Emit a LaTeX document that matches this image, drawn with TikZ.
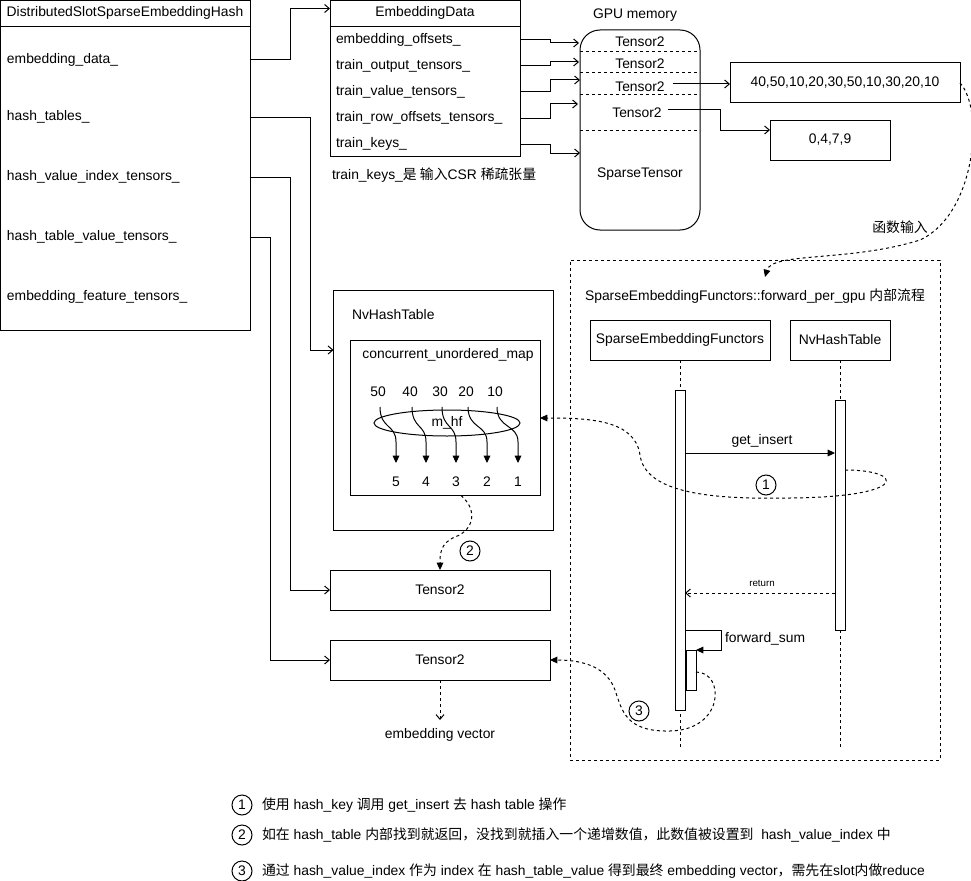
\documentclass[tikz,border=0pt]{standalone}
\usepackage{fontspec}
\setmainfont{Liberation Sans}
\newfontfamily\cjk{Noto Sans CJK SC}
\usetikzlibrary{arrows.meta,calc,shapes.geometric}
\begin{document}
\begin{tikzpicture}[x=0.75pt,y=-0.75pt,
  every node/.style={font=\fontsize{10.4pt}{12pt}\selectfont, inner sep=0pt, outer sep=0pt},
  lw/.style={line width=0.75pt},
  box/.style={draw, lw, rectangle, fill=white},
  fld/.style={anchor=west, text height=7.5pt, text depth=2.2pt},
  dsh/.style={dash pattern=on 2.25pt off 2.25pt},
  oarr/.style={lw, -{Straight Barb[length=3.5pt,width=6pt]}},
  farr/.style={lw, -{Triangle[length=5.5pt,width=5pt]}},
  num/.style={circle, draw, lw, minimum size=15pt},
]
\useasboundingbox (0,0) rectangle (971,881);

% ---------- class box ----------
\node[box, minimum width=187.5pt, minimum height=247.5pt] (cls) at (125.5,165.5) {};
\draw[lw] ($(cls.north west)+(0,26)$) -- ($(cls.north east)+(0,26)$);
\node (clsh) at (125,13) {DistributedSlotSparseEmbeddingHash};
\node[fld] (fe) at (7,60) {embedding\_data\_};
\node[fld] (fh) at (7,117) {hash\_tables\_};
\node[fld] (fv) at (7,177) {hash\_value\_index\_tensors\_};
\node[fld] (ft) at (7,237) {hash\_table\_value\_tensors\_};
\node[fld] (ff) at (7,297) {embedding\_feature\_tensors\_};

% ---------- EmbeddingData ----------
\node[box, minimum width=142.5pt, minimum height=117pt] (ed) at (425,78.5) {};
\draw[lw] ($(ed.north west)+(0,26)$) -- ($(ed.north east)+(0,26)$);
\node (edh) at (425,13) {EmbeddingData};
\node[fld] (e1) at (336,40) {embedding\_offsets\_};
\node[fld] (e2) at (336,66) {train\_output\_tensors\_};
\node[fld] (e3) at (336,92) {train\_value\_tensors\_};
\node[fld] (e4) at (336,118) {train\_row\_offsets\_tensors\_};
\node[fld] (e5) at (336,144) {train\_keys\_};
\node[anchor=west] (tk) at (332,175) {train\_keys\_{\cjk 是 输入}CSR {\cjk 稀疏张量}};

% ---------- GPU memory ----------
\node[draw, lw, rounded corners=15pt, minimum width=90pt, minimum height=150pt] (gpu) at (640,130) {};
\node (gpul) at (635,15) {GPU memory};
\foreach \o in {22,43,65,100}
  \draw[lw,dsh] ($(gpu.north west)+(0,\o)$) -- ($(gpu.north east)+(0,\o)$);
\node (t1) at (640,42) {Tensor2};
\node (t2) at (640,64) {Tensor2};
\node (t3) at (640,87) {Tensor2};
\node (t4) at (637,113) {Tensor2};
\node (st) at (640,174) {SparseTensor};

\node[box, minimum width=172.5pt, minimum height=30pt] (kv) at (845,83) {40,50,10,20,30,50,10,30,20,10};
\node[box, minimum width=90pt, minimum height=30pt] (ro) at (830,140) {0,4,7,9};

% ---------- NvHashTable ----------
\node[box, minimum width=165pt, minimum height=180pt] (nvo) at (443.5,410) {};
\node[anchor=west] (nvl) at (352,315) {NvHashTable};
\node[box, minimum width=142.5pt, minimum height=116.25pt] (cmap) at (445,418) {};
\node (cml) at (448,355) {concurrent\_unordered\_map};
\node[ellipse, draw, lw, minimum width=109.5pt, minimum height=19.5pt] (mhf) at (447,423) {m\_hf};
\node (k50) at (378,392) {50};
\node (k40) at (410,392) {40};
\node (k30) at (440,392) {30};
\node (k20) at (466,392) {20};
\node (k10) at (495,392) {10};
\node (v5) at (396,482) {5};
\node (v4) at (426,482) {4};
\node (v3) at (456,482) {3};
\node (v2) at (487,482) {2};
\node (v1) at (518,482) {1};
\foreach \a/\b in {k50/v5,k40/v4,k30/v3,k20/v2,k10/v1}
  \draw[farr] ($(\a)+(2,15)$) .. controls +(0,22) and +(0,-18) .. ($(\b)+(0,-40)$) -- ($(\b)+(0,-19)$);

% ---------- Tensor2 boxes ----------
\node[box, minimum width=165pt, minimum height=30pt] (T2a) at (440,590) {Tensor2};
\node[box, minimum width=165pt, minimum height=30pt] (T2b) at (440,660) {Tensor2};
\coordinate (evtip) at (440,720);
\node (ev) at (440,735) {embedding vector};
\draw[lw,dsh,oarr] (T2b.south) -- (evtip);

% ---------- class connectors ----------
\draw[oarr] (cls.east |- fe) -- ++(40,0) |- ($(ed.north west)+(0,8)$);
\draw[oarr] (cls.east |- fh) -- ++(60,0) |- ($(nvo.north west)+(0,60)$);
\draw[oarr] (cls.east |- fv) -- ++(40,0) |- (T2a.west);
\draw[oarr] (cls.east |- ft) -- ++(20,0) |- (T2b.west);

% ---------- EmbeddingData connectors ----------
\draw[oarr] (ed.east |- e1) -- ++(30,0) |- ($(gpu.north west)+(-1,13)$);
\draw[oarr] (ed.east |- e2) -- ++(30,0) |- ($(gpu.north west)+(-1,32)$);
\draw[oarr] (ed.east |- e3) -- ++(30,0) |- ($(gpu.north west)+(0,50)$);
\draw[oarr] (ed.east |- e4) -- ++(30,0) |- ($(gpu.north west)+(-2,74)$);
\draw[oarr] (ed.east |- e5) -- ++(30,0) |- ($(gpu.north west)+(0,123)$);

\draw[oarr] ($(t3.east)+(8,-3)$) -- (kv.west |- {$(t3.east)+(8,-3)$});
\draw[oarr] ($(t4.east)+(6,-3)$) -| ($(ro.north west)+(-50,10)$) -- ($(ro.north west)+(0,10)$);

% ---------- sequence frame ----------
\node[draw, lw, dsh, minimum width=277.5pt, minimum height=375pt] (frame) at (755,510) {};
\node (ftitle) at (755,296) {SparseEmbeddingFunctors::forward\_per\_gpu {\cjk 内部流程}};
\node[box, minimum width=135pt, minimum height=30pt] (sef) at (680,340) {SparseEmbeddingFunctors};
\node[box, minimum width=75pt, minimum height=30pt] (nvh) at (840,340) {NvHashTable};
\coordinate (sefend) at (680,747);
\coordinate (nvhend) at (840,747);
\draw[lw,dsh] (sef.south) -- (sefend);
\draw[lw,dsh] (nvh.south) -- (nvhend);
\node[box, minimum width=7.5pt, minimum height=240pt] (act1) at (680,550) {};
\node[box, minimum width=7.5pt, minimum height=172.5pt] (act2) at (840,515) {};
\node[box, minimum width=7.5pt, minimum height=30pt] (act3) at (691,670) {};

\coordinate (gi) at (760,453);
\draw[farr] (act1.east |- gi) -- (act2.west |- gi);
\node (gil) at (762,441) {get\_insert};
\coordinate (rt) at (760,593);
\draw[lw,dsh,oarr] (act2.west |- rt) -- (act1.east |- rt);
\node[font=\fontsize{7.3pt}{8.5pt}\selectfont] (rtl) at (762,583) {return};
\coordinate (fsy) at (700,630);
\draw[farr] (act1.east |- fsy) -- (721,630) -- (721,650) -- (act3.north east);
\node[anchor=west] (fsl) at (725,639) {forward\_sum};

% ---------- dashed flows ----------
\coordinate (fin) at (765,277);
\draw[lw,dsh,farr] (kv.east) .. controls (985,110) and (975,215) .. (920,240) .. controls (850,262) and (772,252) .. (fin);
\node (fnl) at (900,227) {\cjk 函数输入};

\coordinate (c1s) at (700,470);
\coordinate (c1e) at (600,418);
\draw[lw,dsh,farr] (act2.east |- c1s) .. controls (905,470) and (910,497) .. (790,498)
  .. controls (700,500) and (645,490) .. (640,455)
  .. controls (635,420) and (590,418) .. (cmap.east |- c1e);
\node[num, fill=white] (c1) at (766,485) {1};

\draw[lw,dsh,farr] ($(cmap.south)+(16,0)$) .. controls (478,510) and (474,530) .. (455,537)
  .. controls (440,543) and (440,555) .. (T2a.north);
\node[num] (c2) at (470,551) {2};

\draw[lw,dsh,farr] ($(act3.east)+(0,2)$) .. controls (725,672) and (725,730) .. (670,731)
  .. controls (625,732) and (622,710) .. (615,690)
  .. controls (607,668) and (585,660) .. (T2b.east);
\node[num] (c3) at (639,711) {3};

% ---------- notes ----------
\node[num] (n1) at (242,805) {1};
\node[anchor=west] (n1t) at (262,805) {{\cjk 使用} hash\_key {\cjk 调用} get\_insert {\cjk 去} hash table {\cjk 操作}};
\node[num] (n2) at (242,835) {2};
\node[anchor=west] (n2t) at (262,835) {{\cjk 如在} hash\_table {\cjk 内部找到就返回，没找到就插入一个递增数值，此数值被设置到}\ \ hash\_value\_index {\cjk 中}};
\node[num] (n3) at (242,871) {3};
\node[anchor=west] (n3t) at (262,871) {{\cjk 通过} hash\_value\_index {\cjk 作为} index {\cjk 在} hash\_table\_value {\cjk 得到最终} embedding vector{\cjk ，需先在}slot{\cjk 内做}reduce};
\end{tikzpicture}
\end{document}
